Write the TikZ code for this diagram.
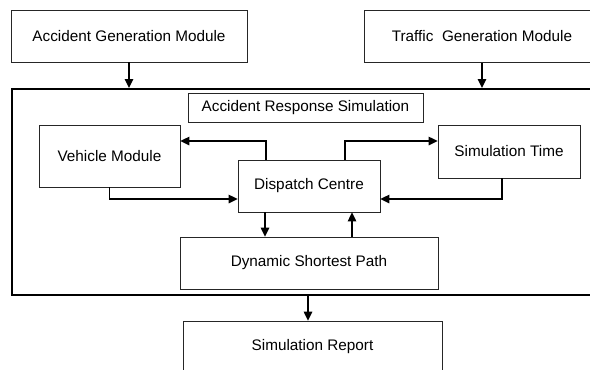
\documentclass[tikz,border=0pt]{standalone}
\usepackage{fontspec}
\setmainfont{Liberation Sans}
\usetikzlibrary{arrows.meta,calc}
\tikzset{
  box/.style={draw=black!85, line width=0.8pt, inner sep=0pt, font=\fontsize{15.3}{18}\selectfont, text=black},
  outerbox/.style={draw=black, line width=1.8pt, inner sep=0pt},
  arr/.style={draw=black, line width=1.4pt, -{Triangle[length=9pt,width=8.5pt]}},
}
\begin{document}
\begin{tikzpicture}[x=1pt,y=-1pt]
\useasboundingbox (0,0) rectangle (590,370);
\clip (0,0) rectangle (590,370);
% outer container
\node[outerbox, minimum width=589pt, minimum height=206pt, anchor=north west] (outer) at (11,88) {};
% boxes
\node[box, minimum width=236pt, minimum height=52pt] (agm) at (129,36) {Accident Generation Module};
\node[box, minimum width=236pt, minimum height=52pt, anchor=north west] (tgmbox) at (364,10) {};
\node[font=\fontsize{15.3}{18}\selectfont] (tgm) at (482,36) {Traffic~ Generation Module};
\node[box, minimum width=235pt, minimum height=29pt] (ars) at (305.5,107.5) {Accident Response Simulation};
\node[box, minimum width=141pt, minimum height=62pt] (vm) at (109.5,156) {Vehicle Module};
\node[box, minimum width=142pt, minimum height=52pt] (dc) at (309,186) {Dispatch Centre};
\node[box, minimum width=142pt, minimum height=53pt] (st) at (509,151.5) {Simulation Time};
\node[box, minimum width=258pt, minimum height=52pt] (dsp) at (309,263) {Dynamic Shortest Path};
\node[box, minimum width=259pt, minimum height=52pt] (sr) at (312.5,347) {Simulation Report};
% helper coordinates
\coordinate (ly) at (0,141);
\coordinate (my) at (0,199);
\coordinate (dcL) at (266,0);
\coordinate (dcR) at (345,0);
\coordinate (dnx) at (265,0);
\coordinate (upx) at (352,0);
\coordinate (stx) at (502,0);
\coordinate (srx) at (308,0);
% connectors
\draw[arr] (agm.south) -- (agm.south |- outer.north);
\draw[arr] (tgmbox.south -| tgm.south) -- (tgm.south |- outer.north);
\draw[arr] (dcL |- dc.north) |- (vm.east |- ly);
\draw[arr] (dcR |- dc.north) |- (st.west |- ly);
\draw[arr] (vm.south) |- (dc.west |- my);
\draw[arr] (stx |- st.south) |- (dc.east |- my);
\draw[arr] (dnx |- dc.south) -- (dnx |- dsp.north);
\draw[arr] (upx |- dsp.north) -- (upx |- dc.south);
\draw[arr] (srx |- outer.south) -- (srx |- sr.north);
\end{tikzpicture}
\end{document}
